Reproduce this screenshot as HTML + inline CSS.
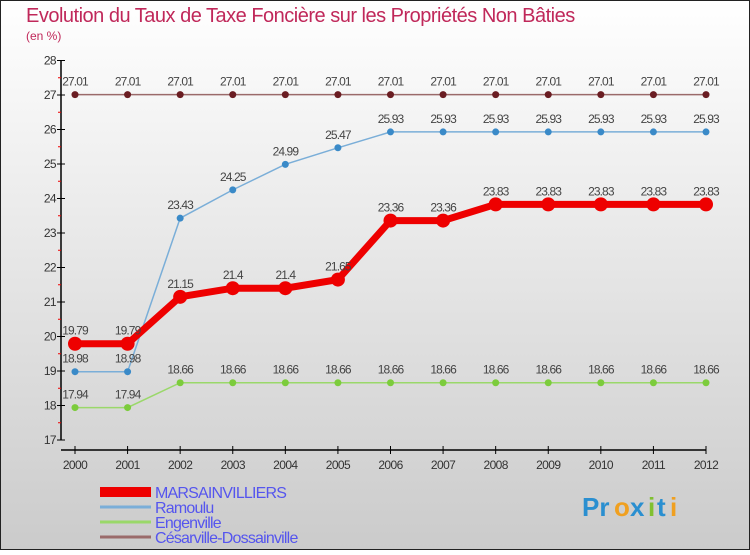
<!DOCTYPE html>
<html><head><meta charset="utf-8"><style>
body{margin:0;width:750px;height:550px;overflow:hidden;font-family:"Liberation Sans",sans-serif}
svg text{font-family:"Liberation Sans",sans-serif}
</style></head><body>
<svg id="chart" width="750" height="550" xmlns="http://www.w3.org/2000/svg">
<defs><linearGradient id="bg" x1="0" y1="0" x2="0" y2="1"><stop offset="0" stop-color="#ffffff"/><stop offset="1" stop-color="#cbcbcb"/></linearGradient></defs>
<rect x="0.5" y="0.5" width="749" height="549" fill="url(#bg)" stroke="#222"/>
<text x="26" y="22" font-size="20" fill="#c0285a" letter-spacing="-0.5">Evolution du Taux de Taxe Foncière sur les Propriétés Non Bâties</text>
<text x="26" y="40" font-size="12" fill="#c0285a">(en %)</text>
<g id="axes"></g><g id="series"></g><g id="legend"></g>
<g font-size="26" font-weight="bold">
<text x="582" y="516" fill="#2a8fd0">Pr</text><text x="614" y="516" fill="#f0a020">o</text><text x="630" y="516" fill="#2a8fd0">x</text><text x="648" y="516" fill="#80c030">i</text><text x="657" y="516" fill="#2a8fd0">t</text><text x="670" y="516" fill="#f0a020">i</text>
</g>
</svg>
<script>
const years=[2000,2001,2002,2003,2004,2005,2006,2007,2008,2009,2010,2011,2012];
const yTicks=[17,18,19,20,21,22,23,24,25,26,27,28];
const marsain=[19.79,19.79,21.15,21.4,21.4,21.65,23.36,23.36,23.83,23.83,23.83,23.83,23.83];
const ramoulu=[18.98,18.98,23.43,24.25,24.99,25.47,25.93,25.93,25.93,25.93,25.93,25.93,25.93];
const engenville=[17.94,17.94,18.66,18.66,18.66,18.66,18.66,18.66,18.66,18.66,18.66,18.66,18.66];
const cesarville=[27.01,27.01,27.01,27.01,27.01,27.01,27.01,27.01,27.01,27.01,27.01,27.01,27.01];
const NS="http://www.w3.org/2000/svg";
const xS=i=>75+i*(706-75)/(years.length-1);
const yS=v=>440-(v-17)*34.5;
function mk(p,t,a){const e=document.createElementNS(NS,t);for(const k in a)e.setAttribute(k,a[k]);p.appendChild(e);return e;}
const ax=document.getElementById('axes');
const yl=mk(ax,'line',{x1:61,y1:yS(28),x2:61,y2:yS(17),stroke:'#000','stroke-width':1.5});


const xl=mk(ax,'line',{x1:61,y1:450,x2:706,y2:450,stroke:'#000','stroke-width':1.5});


yTicks.forEach(v=>{
 mk(ax,'line',{x1:57,x2:65,y1:yS(v),y2:yS(v),stroke:'#000'});
 if(v<28)mk(ax,'line',{x1:58,x2:61,y1:yS(v+0.5),y2:yS(v+0.5),stroke:'#e00'});
 const t=mk(ax,'text',{x:56,y:yS(v)+4,'font-size':12,'text-anchor':'end',fill:'#333','letter-spacing':'-0.6'});
 
 
 t.textContent=v;
});
years.forEach((y,i)=>{
 mk(ax,'line',{x1:xS(i),x2:xS(i),y1:446,y2:454,stroke:'#000'});
 const t=mk(ax,'text',{x:xS(i),y:469,'font-size':12,'text-anchor':'middle',fill:'#333','letter-spacing':'-0.6'});
 
 
 t.textContent=y;
});
const series=[
 {name:'cesarville',label:'Césarville-Dossainville',vals:cesarville,c:'#6a1d22',lc:'#9a6a6a',w:1.5,r:3.5,lw:3},
 {name:'engenville',label:'Engenville',vals:engenville,c:'#7ccc3c',lc:'#9ad86a',w:1.5,r:3.5,lw:3},
 {name:'ramoulu',label:'Ramoulu',vals:ramoulu,c:'#3a8ac8',lc:'#7aaed8',w:1.5,r:3.5,lw:3},
 {name:'marsainvilliers',label:'MARSAINVILLIERS',vals:marsain,c:'#ee0000',lc:'#ee0000',w:7,r:7,lw:10}
];
const sg=document.getElementById('series');
series.forEach(s=>{
 const g=mk(sg,'g',{});
 
 
 mk(g,'polyline',{points:s.vals.map((v,i)=>xS(i)+','+yS(v)).join(' '),fill:'none',stroke:s.lc,'stroke-width':s.w});
 s.vals.forEach((v,i)=>{
  const c=mk(g,'circle',{cx:xS(i),cy:yS(v),r:s.r,fill:s.c});
  
  
  const t=mk(g,'text',{x:xS(i),y:yS(v)-9,'font-size':12,'text-anchor':'middle',fill:'#444','letter-spacing':'-0.9'});
  
  
  t.textContent=v;
 });
});
const lg=document.getElementById('legend');
[...series].reverse().forEach((s,k)=>{
 const y=492+k*15;
 const g=mk(lg,'g',{});
 
 
 mk(g,'line',{x1:100,x2:151,y1:y,y2:y,stroke:s.lc,'stroke-width':s.lw});
 const t=mk(g,'text',{x:155,y:y+6,'font-size':16,fill:'#5555ee','letter-spacing':'-0.8'});
 t.textContent=s.label;
});
</script>
</body></html>
